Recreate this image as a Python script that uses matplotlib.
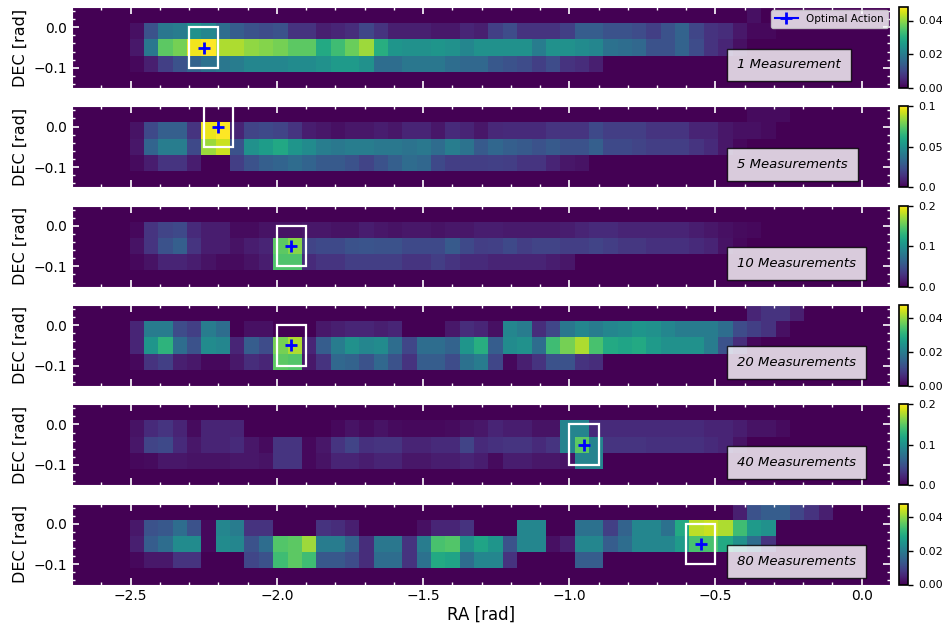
import numpy as np
import matplotlib
matplotlib.use("Agg")
import matplotlib.pyplot as plt
from matplotlib.patches import Rectangle
from matplotlib.ticker import MultipleLocator

# Sky grid: RA bins of 2*pi/128, DEC bands of 0.04 rad
RA_BIN = 2 * np.pi / 128
ra_edges = np.arange(-55, 3) * RA_BIN
dec_edges = np.array([-0.15, -0.11, -0.07, -0.03, 0.01, 0.05])
FIRST_COL = 4  # first RA column that carries probability

panel_labels = ["1 Measurement", "5 Measurements", "10 Measurements",
                "20 Measurements", "40 Measurements", "80 Measurements"]
optimal_ra = [-2.25, -2.2, -1.95, -1.95, -0.95, -0.55]
optimal_dec = [-0.05, 0.0, -0.05, -0.05, -0.05, -0.05]
cbar_max = [0.048, 0.1, 0.2, 0.048, 0.2, 0.048]
cbar_ticks = [[0, 0.02, 0.04], [0, 0.05, 0.1], [0, 0.1, 0.2],
              [0, 0.02, 0.04], [0, 0.1, 0.2], [0, 0.02, 0.04]]
cbar_ticklabels = [["0.00", "0.02", "0.04"], ["0.0", "0.05", "0.1"], ["0.0", "0.1", "0.2"],
                   ["0.00", "0.02", "0.04"], ["0.0", "0.1", "0.2"], ["0.00", "0.02", "0.04"]]

# Posterior probability per cell, listed from RA column FIRST_COL eastwards.
# Rows: top band (0.05..0.01), band a (0.01..-0.03), band b (-0.03..-0.07), band c (-0.07..-0.11)
p1_top = [0.0] * 43 + [0.002]
p1_a = [.002, .012, .019, .020, .024, .022, .017, .014, .012, .011, .012, .007, .007, .004, .005,
        .006, .010, .007, .004, .004, .004, .003, .003, .005, .004, .009, .011, .007, .007, .007,
        .009, .014, .014, .012, .012, .011, .009, .012, .015, .010, .007, .006, .003, .001, .001]
p1_b = [.003, .019, .036, .038, .047, .048, .042, .042, .040, .039, .038, .036, .036, .029, .033,
        .037, .041, .030, .025, .024, .024, .025, .024, .022, .024, .024, .024, .024, .020, .024,
        .024, .023, .022, .018, .017, .016, .012, .012, .015, .011, .007, .005, .002]
p1_c = [.001, .004, .009, .012, .015, .018, .019, .020, .022, .022, .022, .023, .023, .024, .026,
        .026, .024, .017, .017, .019, .019, .019, .017, .016, .016, .013, .012, .011, .009, .011,
        .007, .006, .004]

p2_top = [0.0] * 43 + [.003, .003, .003]
p2_a = [.005, .022, .030, .030, .015, .097, .100, .010, .020, .022, .020, .015, .008, .006, .004,
        .006, .006, .008, .006, .010, .010, .006, .012, .010, .006, .011, .012, .012, .012, .015,
        .015, .015, .022, .018, .018, .018, .015, .015, .015, .010, .010, .006, .004, .004, .003]
p2_b = [.006, .032, .042, .042, .022, .085, .092, .025, .050, .055, .060, .052, .048, .042, .040,
        .042, .042, .040, .040, .038, .040, .035, .042, .038, .028, .033, .030, .028, .025, .028,
        .025, .025, .030, .022, .022, .020, .018, .018, .018, .015, .012, .006, .002]
p2_c = [.003, .008, .015, .015, .008, 0, 0, .018, .025, .030, .032, .035, .032, .028, .028,
        .025, .020, .025, .030, .035, .033, .022, .018, .018, .018, .019, .018, .015, .015, .010,
        .006, .005]

p3_top = []
p3_a = [.004, .030, .040, .044, .024, .016, .016, .006, .006, .010, .010, .010, .012, .012, .010,
        .010, .016, .012, .010, .012, .012, .010, .012, .012, .016, .016, .014, .014, .014, .014,
        .016, .020, .024, .024, .020, .020, .020, .020, .020, .016, .012, .008, .006, .004]
p3_b = [.010, .030, .050, .060, .030, .016, .016, .010, .016, .020, .150, .164, .040, .044, .044,
        .050, .052, .050, .050, .044, .044, .044, .056, .044, .036, .038, .044, .036, .040, .040,
        .036, .036, .040, .036, .032, .032, .028, .028, .028, .024, .020, .010, .004]
p3_c = [.004, .010, .020, .020, .016, .010, .006, .006, .010, .016, .144, .144, .024, .030, .030,
        .036, .036, .036, .036, .030, .030, .036, .030, .024, .024, .020, .020, .020, .020, .016,
        .012]

p4_top = [0.0] * 43 + [.005, .007, .007, .004]
p4_a = [.005, .020, .020, .011, .009, .020, .017, 0, .002, .002, 0, 0, 0, .003, .004,
        .005, .005, .004, .005, 0, 0, 0, .003, .006, .005, .002, .022, .020, .006, .010,
        .019, .022, .020, .022, .023, .025, .024, .022, .020, .020, .020, .017, .011, .009, .007,
        .002]
p4_b = [.005, .025, .031, .017, .012, .023, .022, .005, .014, .011, .038, .042, .005, .014, .020,
        .024, .022, .023, .017, .010, .017, .017, .015, .025, .030, .014, .023, .024, .017, .033,
        .038, .042, .034, .029, .028, .029, .026, .024, .024, .024, .020, .012, .006, .001]
p4_c = [.001, .007, .009, .004, .003, .001, .001, .003, .006, .005, .036, .035, .003, .007, .016,
        .015, .012, .016, .012, .007, .014, .014, .011, .018, .020, .010, .001, .004, .007, .012,
        .012, .007, .006]

p5_top = []
p5_a = [.010, .024, .030, .020, .006, .020, .020, .020, 0, 0, 0, 0, 0, 0, .004,
        .010, .006, .010, .006, .004, .004, .004, .006, .010, .012, .020, .016, .016, .010, .010,
        .090, .090, .024, .024, .024, .024, .024, .024, .024, .024, .020, .020, .016, .010, .010,
        .006]
p5_b = [.012, .040, .044, .024, .012, .020, .020, .024, .012, .006, .030, .030, .004, .012, .030,
        .040, .028, .030, .030, .020, .020, .024, .024, .040, .024, .028, .030, .030, .024, .030,
        .090, .150, .090, .030, .030, .030, .028, .028, .028, .028, .024, .020, .010]
p5_c = [.004, .006, .012, .012, .010, .010, .010, .012, .012, .010, .030, .030, .004, .010, .020,
        .020, .016, .020, .020, .012, .012, .016, .016, .020, .016, .006, .016, .016, .012, .012,
        .010, .090, .090]

p6_top = [0.0] * 42 + [.004, .012, .014, .014, .010, .007, .004]
p6_a = [.003, .012, .013, .017, .012, .001, .022, .020, .007, .007, 0, 0, 0, .007, .006,
        .004, 0, 0, 0, 0, .002, .005, .005, .007, 0, 0, 0, .022, .022, 0,
        0, .018, .018, .009, .015, .022, .022, .018, .029, .043, .044, .042, .033, .026, .024]
p6_b = [.004, .014, .017, .023, .023, .001, .023, .022, .012, .017, .035, .036, .041, .020, .020,
        .015, .006, .019, .019, .007, .020, .034, .035, .024, .028, .025, .012, .022, .022, .002,
        .004, .022, .022, .014, .017, .022, .022, .022, .026, .034, .034, .029, .024, .017, .007]
p6_c = [.001, .003, .003, .007, .007, 0, 0, 0, .010, .012, .033, .036, .033, .013, .013,
        .011, .006, .017, .017, .007, .018, .029, .028, .017, .022, .022, .007, 0, 0, 0,
        0, .014, .014]

panels = [(p1_top, p1_a, p1_b, p1_c), (p2_top, p2_a, p2_b, p2_c), (p3_top, p3_a, p3_b, p3_c),
          (p4_top, p4_a, p4_b, p4_c), (p5_top, p5_a, p5_b, p5_c), (p6_top, p6_a, p6_b, p6_c)]


def build_grid(top, a, b, c):
    z = np.zeros((len(dec_edges) - 1, len(ra_edges) - 1))
    for row, vals in zip((4, 3, 2, 1), (top, a, b, c)):
        z[row, FIRST_COL:FIRST_COL + len(vals)] = vals
    return z


W, H = 946, 626
fig = plt.figure(figsize=(W / 100, H / 100), dpi=100)

ax_left, ax_right = 72.2, 890.4
panel_h = 81.0
for k, rows in enumerate(panels):
    top_px = 7 + 99.3 * k
    ax = fig.add_axes([ax_left / W, 1 - (top_px + panel_h) / H,
                       (ax_right - ax_left) / W, panel_h / H])
    cax = fig.add_axes([899.3 / W, 1 - (top_px + panel_h) / H, 9.0 / W, panel_h / H])

    z = build_grid(*rows)
    mesh = ax.pcolormesh(ra_edges, dec_edges, z, cmap="viridis", vmin=0, vmax=cbar_max[k])

    ax.plot(optimal_ra[k], optimal_dec[k], marker="+", color="blue", ms=9, mew=2,
            label="Optimal Action")
    ax.add_patch(Rectangle((optimal_ra[k] - 0.05, optimal_dec[k] - 0.05), 0.1, 0.1,
                           fill=False, ec="white", lw=1.6, zorder=3))

    ax.text(0.8125, 0.285, panel_labels[k], transform=ax.transAxes, style="italic",
            fontsize=9.5, ha="left", va="center", zorder=5,
            bbox=dict(boxstyle="square,pad=0.75", fc="white", alpha=0.8, ec="black", lw=1))

    if k == 0:
        ax.legend(loc="upper right", fontsize=7.5, framealpha=0.8, borderpad=0.4,
                  handlelength=2.2, borderaxespad=0.25)

    ax.set_xlim(ra_edges[0], ra_edges[-1])
    ax.set_ylim(dec_edges[0], dec_edges[-1])
    ax.xaxis.set_major_locator(MultipleLocator(0.5))
    ax.xaxis.set_minor_locator(MultipleLocator(0.1))
    ax.yaxis.set_major_locator(MultipleLocator(0.1))
    ax.yaxis.set_minor_locator(MultipleLocator(0.02))
    ax.tick_params(which="both", direction="in", color="white", top=True, right=True,
                   labelsize=10)
    ax.tick_params(which="major", length=5, width=1.2)
    ax.tick_params(which="minor", length=2.5, width=1.0)
    for sp in ax.spines.values():
        sp.set_color("white")
        sp.set_linewidth(0.8)
    ax.set_ylabel("DEC [rad]", fontsize=11.5)
    if k < len(panels) - 1:
        ax.tick_params(labelbottom=False)
    else:
        ax.set_xlabel("RA [rad]", fontsize=12, labelpad=2)

    cb = fig.colorbar(mesh, cax=cax)
    cb.set_ticks(cbar_ticks[k])
    cb.set_ticklabels(cbar_ticklabels[k])
    cb.ax.tick_params(labelsize=8, length=3.5, width=1)
    cb.outline.set_linewidth(1.2)

fig.savefig("out.png", dpi=100)
